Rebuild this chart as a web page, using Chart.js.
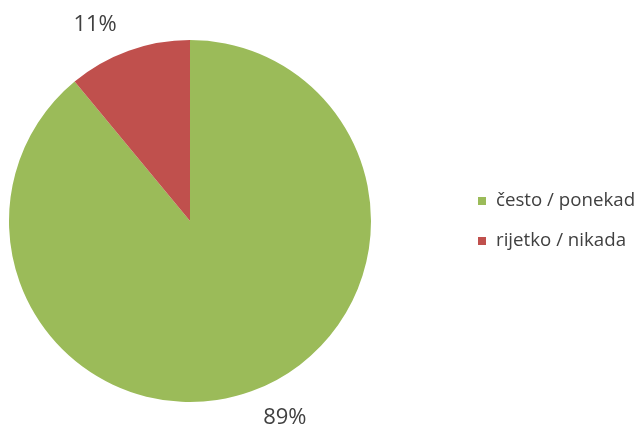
<!DOCTYPE html>
<html>
<head>
<meta charset="utf-8">
<script src="https://cdn.jsdelivr.net/npm/chart.js@4/dist/chart.umd.min.js"></script>
<style>
  html, body { margin: 0; padding: 0; background: #fff; }
  #wrap { width: 636px; height: 428px; position: relative; }
</style>
</head>
<body>
<div id="wrap"><canvas id="grafico"></canvas></div>
<script>
// dados do gráfico
const categorias = ['često / ponekad', 'rijetko / nikada'];
const valores = [89, 11];
const cores = ['#9BBB59', '#C0504D'];

const corTexto = '#404040';
const fonte = '"Open Sans", "Liberation Sans", sans-serif';

// rótulos de percentagem fora das fatias + legenda à direita
const rotulosPlugin = {
  id: 'rotulos',
  afterDatasetsDraw(chart) {
    const ctx = chart.ctx;
    const meta = chart.getDatasetMeta(0);
    ctx.save();
    ctx.fillStyle = corTexto;
    ctx.font = '22px ' + fonte;
    ctx.textAlign = 'center';
    ctx.textBaseline = 'middle';
    meta.data.forEach((arc, i) => {
      const p = arc.getProps(['x', 'y', 'startAngle', 'endAngle', 'outerRadius'], true);
      const meio = (p.startAngle + p.endAngle) / 2 - 6 * Math.PI / 180;
      const r = p.outerRadius + 37;
      ctx.fillText(valores[i] + '%', p.x + Math.cos(meio) * r, p.y + Math.sin(meio) * r);
    });

    // legenda
    ctx.font = '18.7px ' + fonte;
    ctx.textAlign = 'left';
    categorias.forEach((c, i) => {
      const y = 201 + i * 40;
      ctx.fillStyle = cores[i];
      ctx.fillRect(478, y - 4, 8, 8);
      ctx.fillStyle = corTexto;
      ctx.fillText(c, 496, y);
    });
    ctx.restore();
  }
};

new Chart(document.getElementById('grafico'), {
  type: 'pie',
  data: {
    labels: categorias,
    datasets: [{ data: valores, backgroundColor: cores, borderWidth: 0 }]
  },
  options: {
    responsive: true,
    maintainAspectRatio: false,
    animation: false,
    layout: { padding: { top: 40, bottom: 26, left: 9, right: 265 } },
    plugins: { legend: { display: false }, tooltip: { enabled: false } }
  },
  plugins: [rotulosPlugin]
});
</script>
</body>
</html>
